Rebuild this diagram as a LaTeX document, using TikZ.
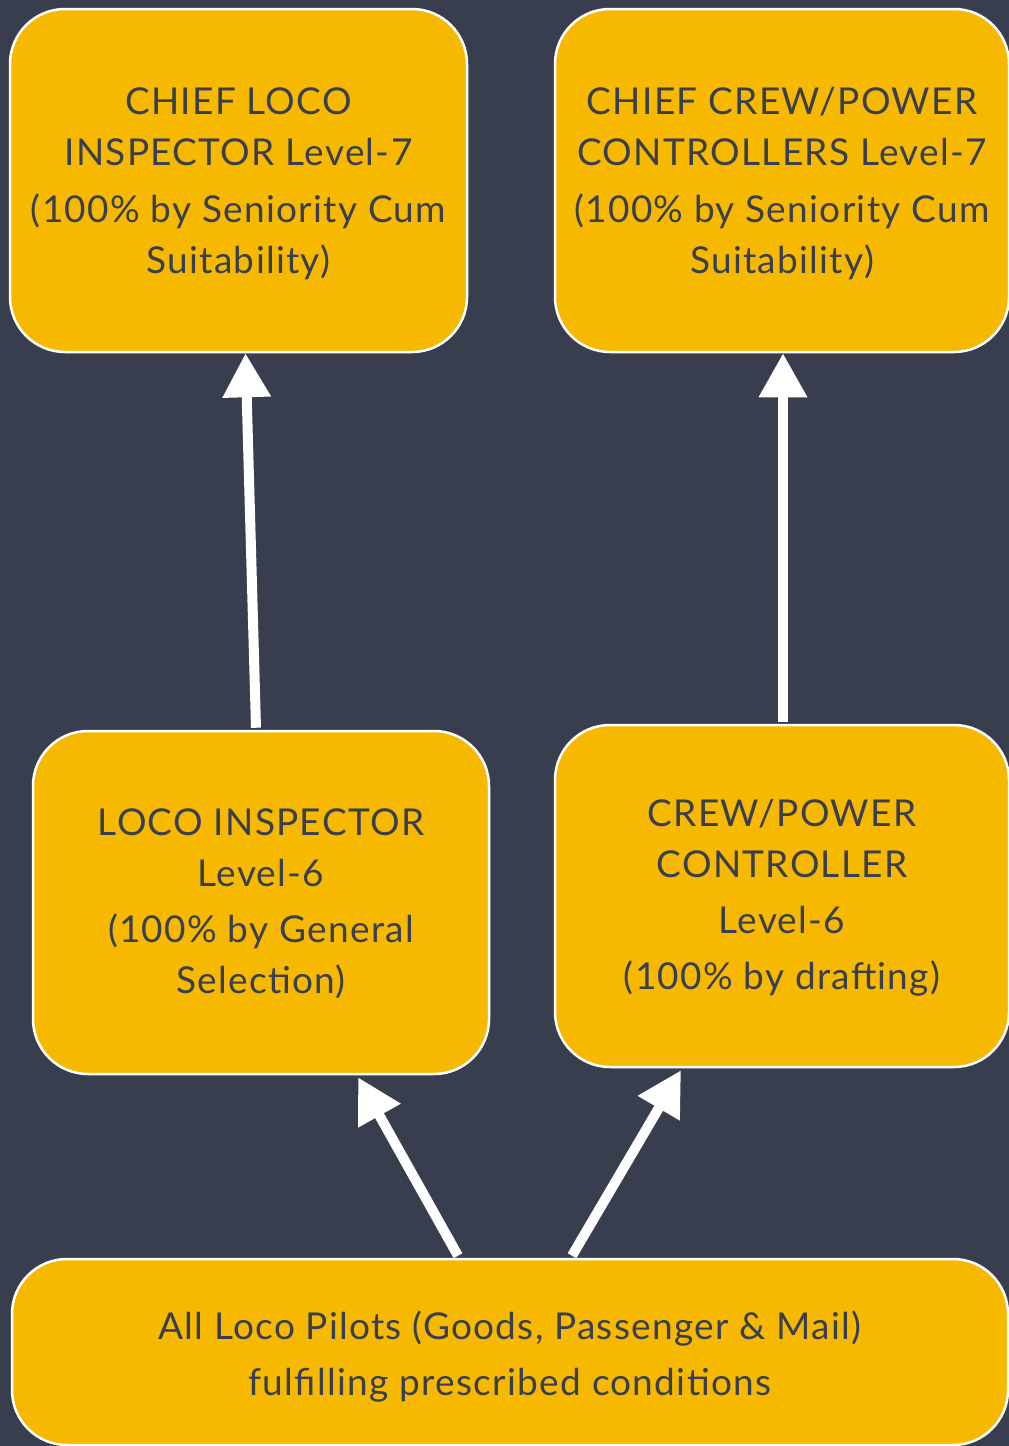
\documentclass[tikz,border=0pt]{standalone}
\usepackage{fontspec}
\setmainfont{Lato}[LetterSpace=3.5]
\usetikzlibrary{arrows.meta,calc}
\definecolor{bgslate}{HTML}{393E4F}
\definecolor{boxgold}{HTML}{F6B900}
\definecolor{inkslate}{HTML}{3A3F4F}
\begin{document}
\begin{tikzpicture}[x=1pt,y=-1pt,
  card/.style={draw=white, line width=2.5pt, fill=boxgold, rounded corners=55pt,
    inner sep=0pt},
  cardtext/.style={text=inkslate, align=center, inner sep=0pt,
    font=\fontsize{37}{51}\selectfont},
  uparrow/.style={draw=white, line width=10pt,
    -{Triangle[width=46pt,length=44pt]}, shorten >=0pt}]
  \useasboundingbox[fill=bgslate] (0,0) rectangle (1009,1446);
  % boxes (the right-hand ones run off the page edge)
  \begin{scope}
  \clip (0,0) rectangle (1009,1446);
  \node[card, minimum width=457pt, minimum height=343pt] (tl) at (238.5,180.5) {};
  \node[card, minimum width=454pt, minimum height=343pt] (tr) at (782,180.5) {};
  \node[card, minimum width=456pt, minimum height=343pt] (ml) at (261,902.5) {};
  \node[card, minimum width=454pt, minimum height=342pt] (mr) at (782,896) {};
  \node[card, minimum width=996pt, minimum height=186pt] (pilots) at (510,1352) {};
  \end{scope}
  % box texts
  \node[cardtext] (tltext) at ($(tl.center)+(0,3)$)
    {CHIEF LOCO\\INSPECTOR Level-7\\[6pt](100\% by Seniority Cum\\Suitability)};
  \node[cardtext] (trtext) at ($(tr.center)+(0,3.5)$)
    {CHIEF CREW/POWER\\CONTROLLERS Level-7\\[6pt](100\% by Seniority Cum\\Suitability)};
  \node[cardtext] (mltext) at ($(ml.center)+(0,1)$)
    {LOCO INSPECTOR\\Level-6\\[5pt](100\% by General\\Selection)};
  \node[cardtext] (mrtext) at ($(mr.center)+(0,2)$)
    {CREW/POWER\\CONTROLLER\\[5pt]Level-6\\[5pt](100\% by drafting)};
  \node[cardtext] (pilotstext) at ($(pilots.center)+(0,4.5)$)
    {All Loco Pilots (Goods, Passenger \& Mail)\\[5pt]fulfilling prescribed conditions};
  % promotion arrows
  \draw[uparrow] ($(ml.north)+(-5,-2)$) -- ($(tl.south)+(7,0)$);
  \draw[uparrow] ($(mr.north)+(1,-2)$) -- ($(tr.south)+(1,0)$);
  \draw[uparrow] ($(pilots.north)+(-52,-2)$) -- ($(ml.south)+(97,2)$);
  \draw[uparrow] ($(pilots.north)+(62,-2)$) -- ($(mr.south)+(-101,2)$);
\end{tikzpicture}
\end{document}
